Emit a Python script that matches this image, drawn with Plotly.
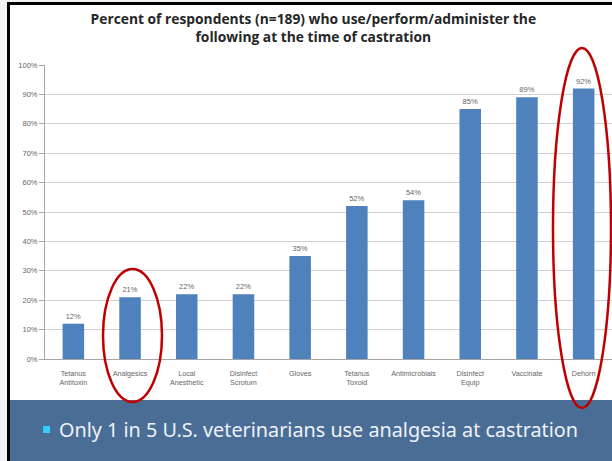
import plotly.graph_objs as go

# Chart data
categories = ['Tetanus<br>Antitoxin', 'Analgesics', 'Local<br>Anesthetic', 'Disinfect<br>Scrotum',
              'Gloves', 'Tetanus<br>Toxoid', 'Antimicrobials', 'Disinfect<br>Equip',
              'Vaccinate', 'Dehorn']
percent = [12, 21, 22, 22, 35, 52, 54, 85, 89, 92]
y_ticks = [0, 10, 20, 30, 40, 50, 60, 70, 80, 90, 100]
y_tick_labels = [f'{v}%' for v in y_ticks]

W, H = 612, 461

def px(x):
    return x / W

def py(y):
    return (H - y) / H

trace = go.Bar(
    x=list(range(len(categories))), y=percent,
    marker=dict(color='#4f81bd', line=dict(width=0)),
    width=0.38,
    text=[f'{v}%' for v in percent], textposition='outside',
    outsidetextfont=dict(size=7.5, color='#666666', family='Liberation Sans'),
    cliponaxis=False,
)

layout = go.Layout(
    width=W, height=H,
    margin=dict(l=0, r=0, t=0, b=0, pad=0),
    paper_bgcolor='white', plot_bgcolor='white',
    showlegend=False,
    font=dict(family='Liberation Sans', color='#666666'),
    title=dict(
        text='Percent of respondents (n=189) who use/perform/administer the<br>following at the time of castration',
        x=0.512, xanchor='center', y=py(24), yanchor='middle', automargin=False,
        font=dict(family='Open Sans', size=13.8, color='#262626', weight='bold'),
    ),
    xaxis=dict(
        domain=[px(45), 1.0], automargin=False,
        range=[-0.5, len(categories) - 0.5],
        tickmode='array', tickvals=list(range(len(categories))), ticktext=categories,
        tickfont=dict(size=7.2, color='#666666'),
        showgrid=False, showline=True, linecolor='#a6a6a6', linewidth=1,
        ticks='outside', ticklen=7, tickcolor='rgba(0,0,0,0)',
        zeroline=False, fixedrange=True,
    ),
    yaxis=dict(
        domain=[py(359), py(65)], automargin=False,
        range=[0, 100],
        tickmode='array', tickvals=y_ticks, ticktext=y_tick_labels,
        tickfont=dict(size=7.5, color='#666666'),
        showgrid=True, gridcolor='#d0d0d0', gridwidth=1,
        showline=True, linecolor='#a6a6a6', linewidth=1,
        ticks='outside', ticklen=5, tickcolor='#a6a6a6',
        zeroline=False, fixedrange=True,
    ),
    shapes=[
        # light slide margin on the left and top
        dict(type='rect', xref='paper', yref='paper', x0=-0.01, x1=px(7), y0=-0.01, y1=1.01,
             fillcolor='#f2f2f2', line=dict(width=0), layer='below'),
        dict(type='rect', xref='paper', yref='paper', x0=-0.01, x1=1.01, y0=py(2), y1=1.01,
             fillcolor='#f2f2f2', line=dict(width=0), layer='below'),
        # bottom slide band
        dict(type='rect', xref='paper', yref='paper', x0=px(10), x1=1.01, y0=-0.01, y1=py(400),
             fillcolor='#4a6d96', line=dict(width=0), layer='below'),
        dict(type='rect', xref='paper', yref='paper', x0=px(43), x1=px(50), y0=py(433), y1=py(426),
             fillcolor='#33ccff', line=dict(width=0)),
        # black frame edges
        dict(type='rect', xref='paper', yref='paper', x0=px(7), x1=px(10), y0=-0.01, y1=py(2),
             fillcolor='black', line=dict(width=0)),
        dict(type='rect', xref='paper', yref='paper', x0=px(7), x1=1.01, y0=py(5), y1=py(2),
             fillcolor='black', line=dict(width=0)),
        # red hand-drawn ellipses
        dict(type='circle', xref='paper', yref='paper', x0=px(103), x1=px(162), y0=py(402), y1=py(269),
             line=dict(color='#c00000', width=2.5)),
        dict(type='circle', xref='paper', yref='paper', x0=px(553), x1=px(611), y0=py(408), y1=py(48),
             line=dict(color='#c00000', width=2.5)),
    ],
    annotations=[
        dict(text='Only 1 in 5 U.S. veterinarians use analgesia at castration',
             xref='paper', yref='paper', x=px(57), y=py(429), xanchor='left', yanchor='middle',
             showarrow=False, font=dict(family='Noto Sans', size=19.8, color='#eef2f8')),
    ],
)

fig = go.Figure(data=[trace], layout=layout)
fig.write_html('out.html', config={'displayModeBar': False},
               post_script="document.body.style.margin='0';document.body.style.overflow='hidden';")
